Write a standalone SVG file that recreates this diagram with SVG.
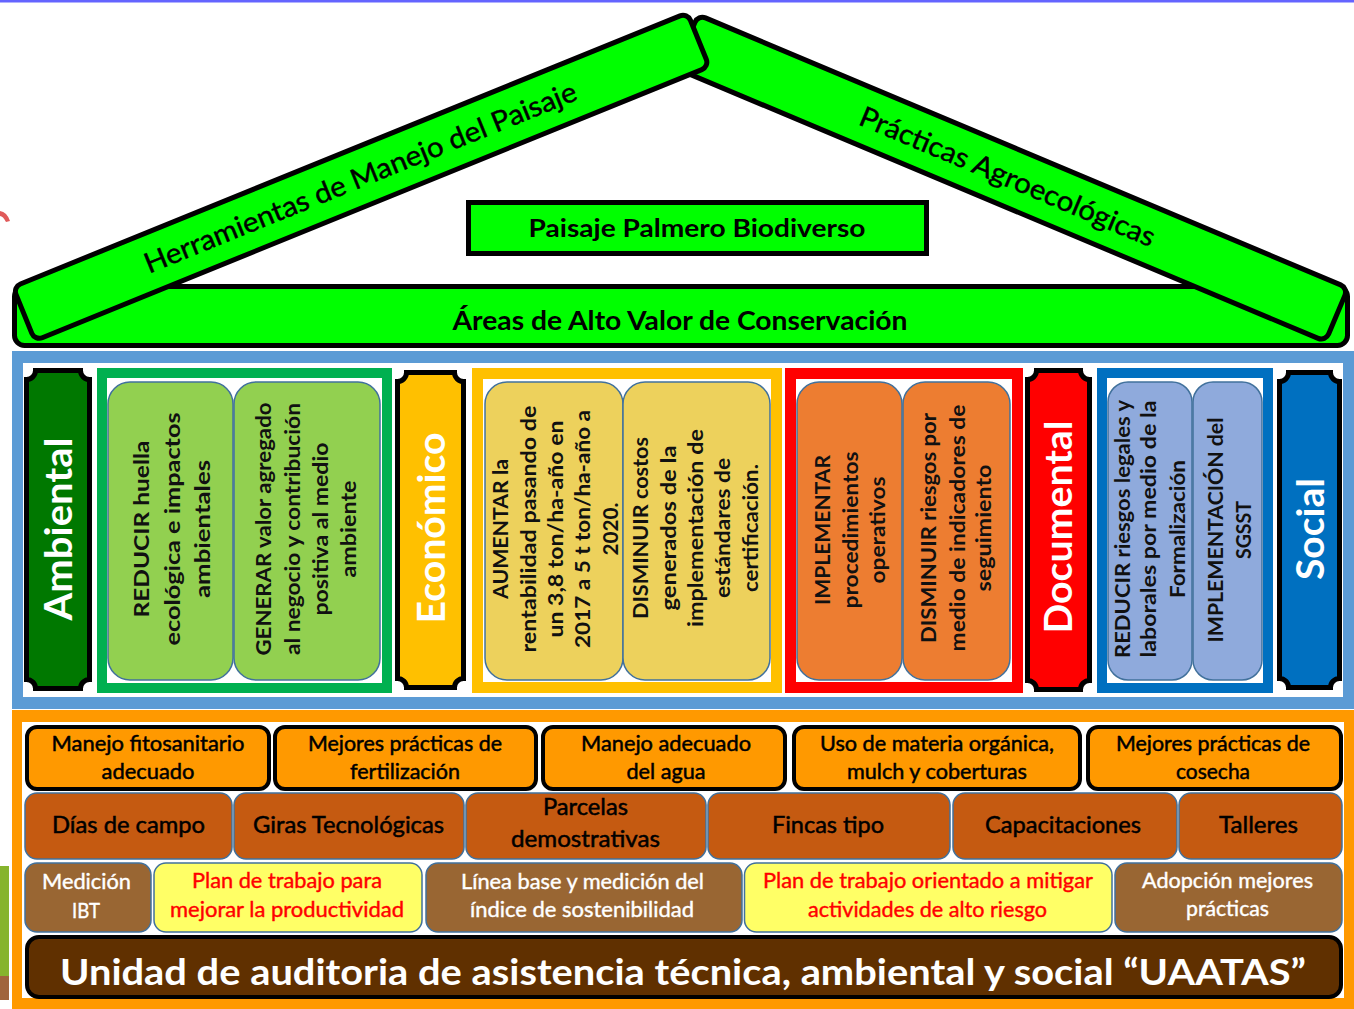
<svg xmlns="http://www.w3.org/2000/svg" width="1354" height="1009" viewBox="0 0 1354 1009">
<style>
text { font-family: Lato, "Liberation Sans", "DejaVu Sans", sans-serif; }
.beam { fill: #00ff00; stroke: #000; stroke-width: 5; }
.rt { font-size: 28px; fill: #000; stroke: #000; stroke-width: 0.4; text-anchor: middle; }
.hb { font-size: 27px; font-weight: 700; fill: #000; text-anchor: middle; }
.pil { stroke: #000; stroke-width: 5; }
.pt { font-size: 38px; font-weight: 700; fill: #fff; text-anchor: middle; dominant-baseline: central; }
.frame { fill: #fff; }
.ib { stroke: #41719c; stroke-width: 1.5; }
.bt { font-size: 20px; font-weight: 700; fill: #111; text-anchor: middle; dominant-baseline: central; }
.r1 { fill: #ff9900; stroke: #000; stroke-width: 4; }
.r2 { fill: #c55a11; stroke: #41719c; stroke-width: 1.5; }
.r3b { fill: #996633; stroke: #41719c; stroke-width: 1.5; }
.r3y { fill: #ffff66; stroke: #41719c; stroke-width: 1.5; }
.t1 { font-size: 22px; fill: #000; stroke: #000; stroke-width: 0.5; text-anchor: middle; }
.t2 { font-size: 23px; fill: #000; stroke: #000; stroke-width: 0.5; text-anchor: middle; }
.t3w { font-size: 21px; fill: #fff; stroke: #fff; stroke-width: 0.4; text-anchor: middle; }
.t3r { font-size: 21px; fill: #ff0000; stroke: #ff0000; stroke-width: 0.4; text-anchor: middle; }
</style>

<rect x="0" y="0" width="1354" height="1009" fill="#fff"/>
<rect x="0" y="0" width="1354" height="2.5" fill="#6464ff"/>

<!-- edge fragments -->
<path d="M0,211 Q7,212 10,221 L6,222 Q3,216 0,216 Z" fill="#e05a5a"/>
<rect x="0" y="866" width="9" height="110" fill="#86b42d"/>
<rect x="0" y="976" width="9" height="24" fill="#a0643c"/>

<!-- ROOF -->
<g id="areas-alto-valor">
  <rect x="14.5" y="286.5" width="1333" height="59" rx="10" class="beam"/>
  <text x="680" y="330" class="hb" textLength="455" lengthAdjust="spacingAndGlyphs">Áreas de Alto Valor de Conservación</text>
</g>
<g id="practicas-agroecologicas" transform="translate(1348,288) rotate(22.8)">
  <rect x="-705" y="0" width="705" height="58" rx="8" class="beam"/>
  <text x="-357" y="39" class="rt" textLength="318" lengthAdjust="spacingAndGlyphs">Prácticas Agroecológicas</text>
</g>
<g id="herramientas-paisaje" transform="translate(13,287) rotate(-22.12)">
  <rect x="0" y="0" width="728" height="58" rx="8" class="beam"/>
  <text x="363" y="39" class="rt" textLength="464" lengthAdjust="spacingAndGlyphs">Herramientas de Manejo del Paisaje</text>
</g>
<g id="paisaje-palmero">
  <rect x="468.5" y="202.5" width="458" height="51" fill="#00ff00" stroke="#000" stroke-width="5"/>
  <text x="697" y="237" class="hb" style="font-size:25px" textLength="337" lengthAdjust="spacingAndGlyphs">Paisaje Palmero Biodiverso</text>
</g>

<!-- PILLARS FRAME -->
<g id="pilares-marco">
  <rect x="12" y="351" width="1342" height="358" fill="#5b9bd5"/>
  <rect x="23" y="363" width="1320" height="334" fill="#fff"/>
</g>

<g id="ambiental">
  <path class="pil" fill="#007800" d="M35.5,370.5 H80.5 A9,9 0 0 0 89.5,379.5 V679.5 A9,9 0 0 0 80.5,688.5 H35.5 A9,9 0 0 0 26.5,679.5 V379.5 A9,9 0 0 0 35.5,370.5 Z"/>
  <text class="pt" transform="translate(57,529) rotate(-90)" textLength="183" lengthAdjust="spacingAndGlyphs">Ambiental</text>
</g>
<g id="ambiental-objetivos">
  <rect x="102" y="373" width="285" height="315" class="frame" stroke="#00b050" stroke-width="10"/>
  <rect x="108" y="382" width="125" height="298" rx="22" fill="#92d050" class="ib"/>
  <rect x="234" y="382" width="146" height="298" rx="22" fill="#92d050" class="ib"/>
  <text class="bt" style="font-size:21px" transform="translate(140,529) rotate(-90)" textLength="177" lengthAdjust="spacingAndGlyphs">REDUCIR huella</text>
  <text class="bt" style="font-size:21px" transform="translate(171,529) rotate(-90)" textLength="233" lengthAdjust="spacingAndGlyphs">ecológica e impactos</text>
  <text class="bt" style="font-size:21px" transform="translate(201,529) rotate(-90)" textLength="138" lengthAdjust="spacingAndGlyphs">ambientales</text>
  <text class="bt" transform="translate(263,529) rotate(-90)" textLength="253" lengthAdjust="spacingAndGlyphs">GENERAR valor agregado</text>
  <text class="bt" transform="translate(292,529) rotate(-90)" textLength="252" lengthAdjust="spacingAndGlyphs">al negocio y contribución</text>
  <text class="bt" transform="translate(320,529) rotate(-90)" textLength="173" lengthAdjust="spacingAndGlyphs">positiva al medio</text>
  <text class="bt" transform="translate(348,529) rotate(-90)" textLength="97" lengthAdjust="spacingAndGlyphs">ambiente</text>
</g>

<g id="economico">
  <path class="pil" fill="#ffc000" d="M406.5,372.5 H454.5 A9,9 0 0 0 463.5,381.5 V678.5 A9,9 0 0 0 454.5,687.5 H406.5 A9,9 0 0 0 397.5,678.5 V381.5 A9,9 0 0 0 406.5,372.5 Z"/>
  <text class="pt" transform="translate(430,528) rotate(-90)" textLength="191" lengthAdjust="spacingAndGlyphs">Económico</text>
</g>
<g id="economico-objetivos">
  <rect x="477.5" y="373.5" width="299" height="314" class="frame" stroke="#ffc000" stroke-width="11"/>
  <rect x="485" y="382" width="138" height="298" rx="22" fill="#edd15c" class="ib"/>
  <rect x="623" y="382" width="147" height="298" rx="22" fill="#edd15c" class="ib"/>
  <text class="bt" transform="translate(500,529) rotate(-90)" textLength="140" lengthAdjust="spacingAndGlyphs">AUMENTAR la</text>
  <text class="bt" transform="translate(528,529) rotate(-90)" textLength="247" lengthAdjust="spacingAndGlyphs">rentabilidad pasando de</text>
  <text class="bt" transform="translate(555,529) rotate(-90)" textLength="217" lengthAdjust="spacingAndGlyphs">un 3,8 ton/ha-año en</text>
  <text class="bt" transform="translate(582,529) rotate(-90)" textLength="238" lengthAdjust="spacingAndGlyphs">2017 a 5 t ton/ha-año a</text>
  <text class="bt" transform="translate(610,529) rotate(-90)" textLength="53" lengthAdjust="spacingAndGlyphs">2020.</text>
  <text class="bt" transform="translate(640,528) rotate(-90)" textLength="182" lengthAdjust="spacingAndGlyphs">DISMINUIR costos</text>
  <text class="bt" transform="translate(668,528) rotate(-90)" textLength="165" lengthAdjust="spacingAndGlyphs">generados de la</text>
  <text class="bt" transform="translate(695,528) rotate(-90)" textLength="198" lengthAdjust="spacingAndGlyphs">implementación de</text>
  <text class="bt" transform="translate(722,528) rotate(-90)" textLength="140" lengthAdjust="spacingAndGlyphs">estándares de</text>
  <text class="bt" transform="translate(750,528) rotate(-90)" textLength="128" lengthAdjust="spacingAndGlyphs">certificación.</text>
</g>

<g id="operativo-objetivos">
  <rect x="790.5" y="373.5" width="227" height="314" class="frame" stroke="#ff0000" stroke-width="11"/>
  <rect x="797" y="382" width="105" height="298" rx="22" fill="#ed7d31" class="ib"/>
  <rect x="903" y="382" width="107" height="298" rx="22" fill="#ed7d31" class="ib"/>
  <text class="bt" transform="translate(822,530) rotate(-90)" textLength="150" lengthAdjust="spacingAndGlyphs">IMPLEMENTAR</text>
  <text class="bt" transform="translate(850,530) rotate(-90)" textLength="157" lengthAdjust="spacingAndGlyphs">procedimientos</text>
  <text class="bt" transform="translate(877,530) rotate(-90)" textLength="107" lengthAdjust="spacingAndGlyphs">operativos</text>
  <text class="bt" transform="translate(928,528) rotate(-90)" textLength="230" lengthAdjust="spacingAndGlyphs">DISMINUIR riesgos por</text>
  <text class="bt" transform="translate(957,528) rotate(-90)" textLength="247" lengthAdjust="spacingAndGlyphs">medio de indicadores de</text>
  <text class="bt" transform="translate(983,528) rotate(-90)" textLength="127" lengthAdjust="spacingAndGlyphs">seguimiento</text>
</g>

<g id="documental">
  <path class="pil" fill="#ff0000" d="M1036.5,370.5 H1080.5 A9,9 0 0 0 1089.5,379.5 V680.5 A9,9 0 0 0 1080.5,689.5 H1036.5 A9,9 0 0 0 1027.5,680.5 V379.5 A9,9 0 0 0 1036.5,370.5 Z"/>
  <text class="pt" transform="translate(1057,527) rotate(-90)" textLength="213" lengthAdjust="spacingAndGlyphs">Documental</text>
</g>

<g id="social-objetivos">
  <rect x="1102" y="373" width="166" height="315" class="frame" stroke="#0070c0" stroke-width="10"/>
  <rect x="1108" y="382" width="84" height="298" rx="20" fill="#8faadc" class="ib"/>
  <rect x="1193" y="382" width="69" height="298" rx="20" fill="#8faadc" class="ib"/>
  <text class="bt" transform="translate(1122,529) rotate(-90)" textLength="258" lengthAdjust="spacingAndGlyphs">REDUCIR riesgos legales y</text>
  <text class="bt" transform="translate(1148,529) rotate(-90)" textLength="257" lengthAdjust="spacingAndGlyphs">laborales por medio de la</text>
  <text class="bt" transform="translate(1177,529) rotate(-90)" textLength="138" lengthAdjust="spacingAndGlyphs">Formalización</text>
  <text class="bt" transform="translate(1215,530) rotate(-90)" textLength="225" lengthAdjust="spacingAndGlyphs">IMPLEMENTACIÓN del</text>
  <text class="bt" transform="translate(1243,530) rotate(-90)" textLength="58" lengthAdjust="spacingAndGlyphs">SGSST</text>
</g>

<g id="social">
  <path class="pil" fill="#0070c0" d="M1288.5,372.5 H1330.5 A9,9 0 0 0 1339.5,381.5 V678.5 A9,9 0 0 0 1330.5,687.5 H1288.5 A9,9 0 0 0 1279.5,678.5 V381.5 A9,9 0 0 0 1288.5,372.5 Z"/>
  <text class="pt" transform="translate(1309,529) rotate(-90)" textLength="102" lengthAdjust="spacingAndGlyphs">Social</text>
</g>

<!-- BASE -->
<g id="base-marco">
  <rect x="12" y="710" width="1342" height="299" fill="#ff9900"/>
  <rect x="22" y="722" width="1322" height="276" fill="#fff"/>
</g>

<g id="fila-practicas">
  <g id="manejo-fitosanitario">
    <rect x="27" y="727" width="242" height="62" rx="10" class="r1"/>
    <text x="148" y="751" class="t1" textLength="193" lengthAdjust="spacingAndGlyphs">Manejo fitosanitario</text>
    <text x="148" y="779" class="t1" textLength="93" lengthAdjust="spacingAndGlyphs">adecuado</text>
  </g>
  <g id="fertilizacion">
    <rect x="275" y="727" width="261" height="62" rx="10" class="r1"/>
    <text x="405" y="751" class="t1" textLength="194" lengthAdjust="spacingAndGlyphs">Mejores prácticas de</text>
    <text x="405" y="779" class="t1" textLength="110" lengthAdjust="spacingAndGlyphs">fertilización</text>
  </g>
  <g id="manejo-agua">
    <rect x="543" y="727" width="242" height="62" rx="10" class="r1"/>
    <text x="666" y="751" class="t1" textLength="170" lengthAdjust="spacingAndGlyphs">Manejo adecuado</text>
    <text x="666" y="779" class="t1" textLength="79" lengthAdjust="spacingAndGlyphs">del agua</text>
  </g>
  <g id="materia-organica">
    <rect x="794" y="727" width="286" height="62" rx="10" class="r1"/>
    <text x="937" y="751" class="t1" textLength="234" lengthAdjust="spacingAndGlyphs">Uso de materia orgánica,</text>
    <text x="937" y="779" class="t1" textLength="180" lengthAdjust="spacingAndGlyphs">mulch y coberturas</text>
  </g>
  <g id="cosecha">
    <rect x="1088" y="727" width="253" height="62" rx="10" class="r1"/>
    <text x="1213" y="751" class="t1" textLength="194" lengthAdjust="spacingAndGlyphs">Mejores prácticas de</text>
    <text x="1213" y="779" class="t1" textLength="74" lengthAdjust="spacingAndGlyphs">cosecha</text>
  </g>
</g>

<g id="fila-actividades">
  <g id="dias-campo">
    <rect x="25" y="793" width="207" height="66" rx="12" class="r2"/>
    <text x="128.5" y="833" class="t2" textLength="153" lengthAdjust="spacingAndGlyphs">Días de campo</text>
  </g>
  <g id="giras">
    <rect x="234" y="793" width="230" height="66" rx="12" class="r2"/>
    <text x="348.5" y="833" class="t2" textLength="191" lengthAdjust="spacingAndGlyphs">Giras Tecnológicas</text>
  </g>
  <g id="parcelas">
    <rect x="466" y="793" width="240" height="66" rx="12" class="r2"/>
    <text x="585.5" y="815" class="t2" textLength="85" lengthAdjust="spacingAndGlyphs">Parcelas</text>
    <text x="585.5" y="847" class="t2" textLength="149" lengthAdjust="spacingAndGlyphs">demostrativas</text>
  </g>
  <g id="fincas">
    <rect x="708" y="793" width="242" height="66" rx="12" class="r2"/>
    <text x="828" y="833" class="t2" textLength="112" lengthAdjust="spacingAndGlyphs">Fincas tipo</text>
  </g>
  <g id="capacitaciones">
    <rect x="953" y="793" width="224" height="66" rx="12" class="r2"/>
    <text x="1063" y="833" class="t2" textLength="156" lengthAdjust="spacingAndGlyphs">Capacitaciones</text>
  </g>
  <g id="talleres">
    <rect x="1179" y="793" width="163" height="66" rx="12" class="r2"/>
    <text x="1258.5" y="833" class="t2" textLength="79" lengthAdjust="spacingAndGlyphs">Talleres</text>
  </g>
</g>

<g id="fila-medicion">
  <g id="medicion-ibt">
    <rect x="25" y="863" width="126" height="69" rx="12" class="r3b"/>
    <text x="86.5" y="889" class="t3w" textLength="89" lengthAdjust="spacingAndGlyphs">Medición</text>
    <text x="86" y="918" class="t3w" textLength="28" lengthAdjust="spacingAndGlyphs">IBT</text>
  </g>
  <g id="plan-productividad">
    <rect x="154" y="863" width="268" height="69" rx="12" class="r3y"/>
    <text x="287" y="888" class="t3r" textLength="190" lengthAdjust="spacingAndGlyphs">Plan de trabajo para</text>
    <text x="287" y="917" class="t3r" textLength="234" lengthAdjust="spacingAndGlyphs">mejorar la productividad</text>
  </g>
  <g id="linea-base">
    <rect x="426" y="863" width="316" height="69" rx="12" class="r3b"/>
    <text x="582.5" y="889" class="t3w" textLength="243" lengthAdjust="spacingAndGlyphs">Línea base y medición del</text>
    <text x="582" y="917" class="t3w" textLength="224" lengthAdjust="spacingAndGlyphs">índice de sostenibilidad</text>
  </g>
  <g id="plan-riesgo">
    <rect x="744.5" y="863" width="367.5" height="69" rx="12" class="r3y"/>
    <text x="928" y="888" class="t3r" textLength="330" lengthAdjust="spacingAndGlyphs">Plan de trabajo orientado a mitigar</text>
    <text x="927.5" y="917" class="t3r" textLength="239" lengthAdjust="spacingAndGlyphs">actividades de alto riesgo</text>
  </g>
  <g id="adopcion">
    <rect x="1115" y="863" width="227" height="69" rx="12" class="r3b"/>
    <text x="1227.5" y="888" class="t3w" textLength="171" lengthAdjust="spacingAndGlyphs">Adopción mejores</text>
    <text x="1227.5" y="916" class="t3w" textLength="83" lengthAdjust="spacingAndGlyphs">prácticas</text>
  </g>
</g>

<g id="uaatas">
  <rect x="27" y="937" width="1314" height="60" rx="12" fill="#603000" stroke="#000" stroke-width="4"/>
  <text x="683" y="985" text-anchor="middle" style="font-size:37px;font-weight:700" fill="#fff" textLength="1246" lengthAdjust="spacingAndGlyphs">Unidad de auditoria de asistencia técnica, ambiental y social “UAATAS”</text>
</g>

<g id="connectors"/>
</svg>
